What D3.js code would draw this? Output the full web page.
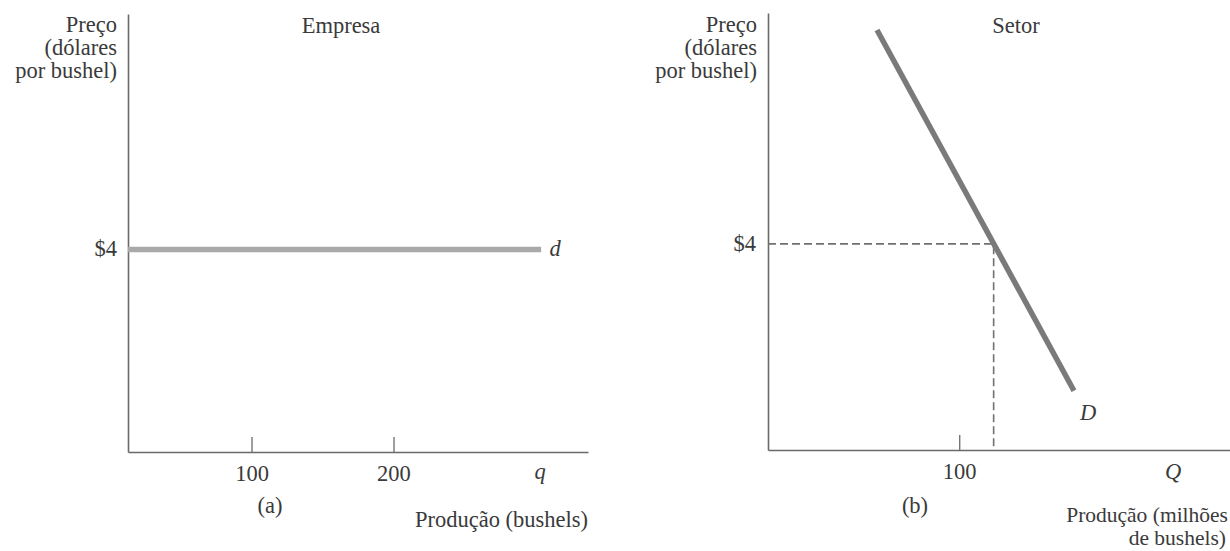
<!DOCTYPE html>
<html>
<head>
<meta charset="utf-8">
<script src="https://cdn.jsdelivr.net/npm/d3@7"></script>
<style>
  html, body { margin: 0; padding: 0; background: #fff; }
  svg text { font-family: "Liberation Serif", "Times New Roman", serif; fill: #3a3a3a; }
</style>
</head>
<body>
<svg id="chart" width="1230" height="551"></svg>
<script>
// Firm (a): horizontal demand at the market price
const firmTicks = [100, 200];
const firmDemand = [{ q: 13, p: 4 }, { q: 304, p: 4 }];
const firmPrice = 4;

// Industry (b): downward-sloping market demand
const industryTicks = [100];
const industryDemand = [{ q: 57, p: 8.15 }, { q: 160, p: 1.15 }];
const marketPrice = 4;
const marketQuantity = 118;

const priceTitle = ["Preço", "(dólares", "por bushel)"];

const svg = d3.select("#chart");

// ---------- scales ----------
const xA = d3.scaleLinear().domain([13, 337]).range([128, 588]);
const yA = d3.scaleLinear().domain([0, 8.65]).range([452, 14]);
const xB = d3.scaleLinear().domain([0, 241.6]).range([768, 1230]);
const yB = d3.scaleLinear().domain([0, 8.48]).range([450, 13]);

const axisColor = "#6a6a6a";
const fontSize = 22.5;

function drawPanel(g, x, y, ticks) {
  // x axis with ticks pointing into the plot
  const xAxis = d3.axisBottom(x)
    .tickValues(ticks)
    .tickFormat(d3.format("d"))
    .tickSizeInner(-15)
    .tickSizeOuter(0)
    .tickPadding(13);
  const gx = g.append("g")
    .attr("transform", `translate(0,${y.range()[0]})`)
    .call(xAxis);
  gx.select(".domain").attr("stroke", axisColor).attr("stroke-width", 1.6);
  gx.selectAll(".tick line").attr("stroke", axisColor).attr("stroke-width", 1.3);
  gx.selectAll(".tick text")
    .attr("font-size", fontSize)
    .attr("font-family", "Liberation Serif, serif")
    .attr("fill", "#3a3a3a");

  // y axis (no ticks)
  const yAxis = d3.axisLeft(y).tickValues([]).tickSizeOuter(0);
  const gy = g.append("g")
    .attr("transform", `translate(${x.range()[0]},0)`)
    .call(yAxis);
  gy.select(".domain").attr("stroke", axisColor).attr("stroke-width", 1.6);
}

function text(g, str, xPos, yPos, anchor, opts = {}) {
  return g.append("text")
    .attr("x", xPos).attr("y", yPos)
    .attr("text-anchor", anchor)
    .attr("font-size", opts.size || fontSize)
    .attr("font-style", opts.italic ? "italic" : null)
    .text(str);
}

// ---------- panel (a): Empresa ----------
const gA = svg.append("g");
drawPanel(gA, xA, yA, firmTicks);

gA.append("path")
  .datum(firmDemand)
  .attr("d", d3.line().x(d => xA(d.q)).y(d => yA(d.p)))
  .attr("fill", "none")
  .attr("stroke", "#a9a9a9")
  .attr("stroke-width", 5.5);

priceTitle.forEach((t, i) => text(gA, t, 117, 32 + i * 23, "end"));
text(gA, "Empresa", 341, 33, "middle");
text(gA, "$" + firmPrice, 117, yA(firmPrice) + 7, "end");
text(gA, "d", xA(firmDemand[1].q) + 14, yA(firmPrice) + 7, "middle", { italic: true });
text(gA, "q", 540, 479, "middle", { italic: true });
text(gA, "(a)", 270, 513, "middle");
text(gA, "Produção (bushels)", 588, 527, "end");

// ---------- panel (b): Setor ----------
const gB = svg.append("g");
drawPanel(gB, xB, yB, industryTicks);

// dashed guides to the market equilibrium
const guide = d3.line().x(d => xB(d[0])).y(d => yB(d[1]));
gB.append("path")
  .datum([[0, marketPrice], [marketQuantity, marketPrice], [marketQuantity, 0]])
  .attr("d", guide)
  .attr("fill", "none")
  .attr("stroke", "#707070")
  .attr("stroke-width", 1.6)
  .attr("stroke-dasharray", "8,4");

gB.append("path")
  .datum(industryDemand)
  .attr("d", d3.line().x(d => xB(d.q)).y(d => yB(d.p)))
  .attr("fill", "none")
  .attr("stroke", "#7a7a7a")
  .attr("stroke-width", 5.5);

priceTitle.forEach((t, i) => text(gB, t, 757, 32 + i * 23, "end"));
text(gB, "Setor", 1016, 33, "middle");
text(gB, "$" + marketPrice, 756, yB(marketPrice) + 7, "end");
text(gB, "D", 1088, 420, "middle", { italic: true });
text(gB, "Q", 1173, 479, "middle", { italic: true });
text(gB, "(b)", 915, 513, "middle");
text(gB, "Produção (milhões", 1228, 522, "end", { size: 21.5 });
text(gB, "de bushels)", 1226, 545, "end", { size: 21.5 });
</script>
</body>
</html>
